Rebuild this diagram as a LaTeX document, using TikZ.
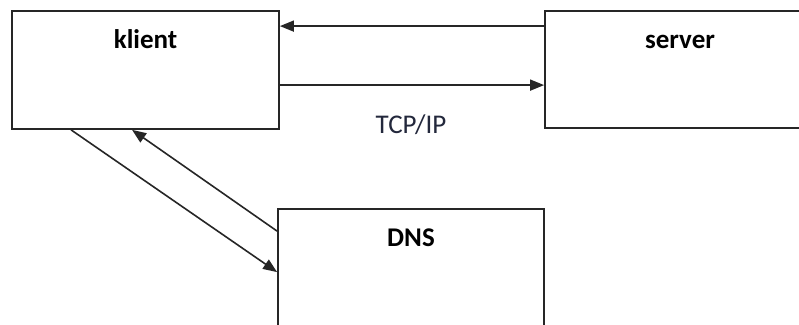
\documentclass[tikz,border=0pt]{standalone}
\usepackage{fontspec}
\setmainfont{Carlito}
\usetikzlibrary{arrows.meta}
\usetikzlibrary{calc}

\tikzset{
  box/.style={draw=black!85,line width=1.8pt,rectangle,inner sep=0pt},
  boxlabel/.style={anchor=north,font=\fontsize{27}{30}\selectfont\bfseries,
    inner sep=0pt,text height=19pt,text depth=5pt},
  conn/.style={draw=black!85,line width=1.6pt,-{Triangle[length=14pt,width=11pt]}}
}

\begin{document}
\begin{tikzpicture}[x=1pt,y=-1pt]%klient/server/DNS
\clip (0,0) rectangle (799,324);
\fill[white] (0,0) rectangle (799,324);
\node[box,minimum width=267pt,minimum height=118pt,
  label={[boxlabel,name=klientlbl,yshift=-19pt]north:klient}] (klient) at (145.5,70) {};
\node[box,minimum width=270pt,minimum height=117pt,
  label={[boxlabel,name=serverlbl,yshift=-19pt]north:server}] (server) at (680,69.5) {};
\node[box,minimum width=266pt,minimum height=150pt,
  label={[boxlabel,name=dnslbl,yshift=-19pt]north:DNS}] (dns) at (411,284) {};
\node[font=\fontsize{27}{30}\selectfont,text={rgb,255:red,35;green,40;blue,60}] (tcpip) at (411,125) {TCP/IP};
% klient <-> server
\draw[conn] ($(server.north west)+(0,16)$) -- ($(klient.north east)+(0,16)$);
\draw[conn] ($(klient.north east)+(0,75)$) -- ($(server.north west)+(0,75)$);
% klient <-> DNS
\draw[conn] ($(klient.south west)+(60,0)$) -- ($(dns.north west)+(0,64)$);
\draw[conn] ($(dns.north west)+(0,23)$) -- ($(klient.south west)+(121,0)$);
\end{tikzpicture}
\end{document}
